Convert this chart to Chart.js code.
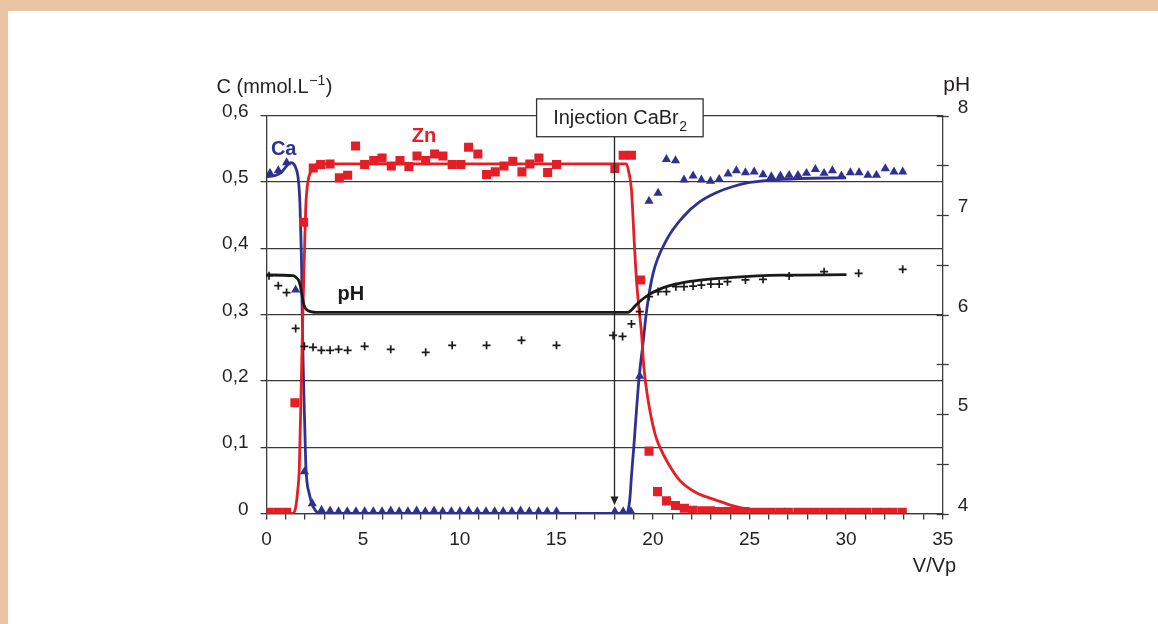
<!DOCTYPE html>
<html><head><meta charset="utf-8">
<script src="https://cdn.jsdelivr.net/npm/chart.js@4.4.0/dist/chart.umd.min.js"></script>
<style>
html,body{margin:0;padding:0;width:1158px;height:624px;overflow:hidden;background:#ebc4a4;}
#panel{position:absolute;left:8px;top:11px;width:1150px;height:613px;background:#fff;}
#c{position:absolute;left:0;top:0;}
</style></head><body>
<div id="panel"></div>
<canvas id="c" width="1158" height="624"></canvas>
<script>
// ---------- DATA ----------
const xTicks = [0,1,2,3,4,5,6,7,8,9,10,11,12,13,14,15,16,17,18,19,20,21,22,23,24,25,26,27,28,29,30,31,32,33,34,35];
const xTickLabels = ['0','','','','','5','','','','','10','','','','','15','','','','','20','','','','','25','','','','','30','','','','','35'];
const cTicks = [0,0.1,0.2,0.3,0.4,0.5,0.6];
const cTickLabels = ['0','0,1','0,2','0,3','0,4','0,5','0,6'];
const phTicks = [4,4.5,5,5.5,6,6.5,7,7.5,8];
const phTickLabels = ['4','','5','','6','','7','','8'];

// Zn measured (V/Vp, C)
const znPoints = [[0.13,0.002],[0.58,0.002],[1.04,0.002],[1.47,0.167],[1.92,0.439],[2.42,0.521],[2.80,0.526],[3.29,0.527],[3.77,0.506],[4.20,0.510],[4.61,0.554],[5.08,0.526],[5.55,0.532],[5.98,0.536],[6.46,0.524],[6.91,0.532],[7.37,0.523],[7.79,0.539],[8.24,0.532],[8.70,0.542],[9.13,0.539],[9.61,0.526],[10.06,0.526],[10.46,0.552],[10.94,0.542],[11.39,0.511],[11.84,0.515],[12.29,0.524],[12.75,0.531],[13.22,0.515],[13.63,0.527],[14.10,0.536],[14.55,0.514],[15.01,0.526],[18.03,0.520],[18.46,0.540],[18.89,0.540],[19.36,0.352],[19.80,0.094],[20.24,0.033],[20.70,0.019],[21.17,0.012],[21.63,0.008],[22.06,0.005],[22.53,0.004],[22.98,0.004],[23.43,0.003],[23.87,0.003],[24.32,0.003],[24.77,0.003],[25.22,0.002],[25.67,0.002],[26.13,0.002],[26.60,0.002],[27.01,0.002],[27.50,0.002],[27.95,0.002],[28.39,0.002],[28.84,0.002],[29.29,0.002],[29.74,0.002],[30.19,0.002],[30.64,0.002],[31.08,0.002],[31.57,0.002],[32.00,0.002],[32.43,0.002],[32.91,0.002]];
// Zn model curve
const znCurve = [[0,0],[1.35,0],[1.5,0.008],[1.6,0.03],[1.7,0.07],[1.78,0.17],[1.88,0.30],[1.97,0.40],[2.03,0.46],[2.11,0.493],[2.34,0.518],[2.77,0.527],[18.63,0.527],[18.75,0.515],[18.89,0.488],[19.03,0.412],[19.15,0.352],[19.27,0.312],[19.41,0.272],[19.53,0.221],[19.75,0.171],[20.1,0.121],[20.36,0.100],[20.8,0.075],[21.39,0.050],[22.2,0.032],[23.29,0.020],[24.2,0.011],[25.17,0.005],[26.5,0.001],[28,0],[30,0]];

// Ca measured
const caPoints = [[0.18,0.513],[0.61,0.517],[1.04,0.529],[1.51,0.337],[1.96,0.063],[2.37,0.015],[2.85,0.005],[3.29,0.004],[3.73,0.003],[4.18,0.003],[4.63,0.003],[5.08,0.003],[5.53,0.003],[5.98,0.003],[6.43,0.004],[6.87,0.003],[7.32,0.003],[7.77,0.004],[8.22,0.003],[8.67,0.004],[9.12,0.003],[9.57,0.003],[10.01,0.003],[10.46,0.004],[10.91,0.003],[11.36,0.003],[11.81,0.003],[12.25,0.003],[12.70,0.003],[13.15,0.004],[13.60,0.003],[14.08,0.003],[14.53,0.003],[15.01,0.003],[18.03,0.003],[18.46,0.003],[18.86,0.003],[19.32,0.207],[19.80,0.471],[20.27,0.483],[20.70,0.534],[21.17,0.532],[21.61,0.503],[22.08,0.509],[22.51,0.503],[22.98,0.501],[23.43,0.504],[23.89,0.512],[24.32,0.517],[24.79,0.514],[25.24,0.515],[25.70,0.511],[26.13,0.508],[26.60,0.509],[27.05,0.510],[27.51,0.510],[27.95,0.513],[28.41,0.519],[28.86,0.513],[29.29,0.517],[29.76,0.509],[30.22,0.514],[30.67,0.514],[31.13,0.510],[31.57,0.510],[32.03,0.520],[32.48,0.515],[32.93,0.515]];
// Ca model curve
const caCurve = [[0,0.508],[0.5,0.510],[0.79,0.515],[1.04,0.524],[1.25,0.529],[1.47,0.524],[1.65,0.503],[1.73,0.468],[1.78,0.417],[1.82,0.367],[1.85,0.297],[1.90,0.221],[1.99,0.121],[2.04,0.070],[2.21,0.030],[2.42,0.010],[2.8,0],[18.63,0],[18.8,0.02],[18.9,0.06],[19.01,0.10],[19.27,0.20],[19.5,0.26],[19.67,0.305],[20.01,0.362],[20.7,0.412],[21.56,0.447],[22.43,0.470],[23.3,0.484],[24.15,0.493],[25.0,0.499],[25.88,0.502],[27.6,0.505],[30.0,0.506]];

// pH measured (right axis)
const phPoints = [[0.13,6.39],[0.61,6.29],[1.04,6.22],[1.51,5.86],[1.96,5.68],[2.41,5.67],[2.84,5.64],[3.29,5.64],[3.73,5.65],[4.20,5.64],[5.08,5.68],[6.43,5.65],[8.24,5.62],[9.61,5.69],[11.39,5.69],[13.20,5.74],[15.01,5.69],[17.94,5.79],[18.43,5.78],[18.89,5.905],[19.32,6.028],[19.80,6.18],[20.27,6.23],[20.70,6.23],[21.19,6.28],[21.61,6.28],[22.08,6.286],[22.51,6.296],[23.00,6.306],[23.43,6.306],[23.86,6.33],[24.79,6.347],[25.70,6.354],[27.05,6.387],[28.86,6.43],[30.65,6.414],[32.93,6.454]];
// pH model curve
const phCurve = [[0,6.397],[1.39,6.39],[1.55,6.37],[1.65,6.347],[1.75,6.29],[1.82,6.213],[1.94,6.095],[2.16,6.038],[2.6,6.022],[18.72,6.022],[18.89,6.045],[19.1,6.09],[19.41,6.146],[19.84,6.205],[20.3,6.25],[20.7,6.28],[21.5,6.318],[22.43,6.345],[24.15,6.374],[26.74,6.395],[30.02,6.40]];

// annotation anchors (data units)
const injectionX = 18;
const injectionBoxX = [13.98, 22.6];
const injectionBoxC = [0.568, 0.625];
const arrowTipC = 0.013;
const seriesLabels = [
  {text:'Ca', x:0.89, c:0.540, color:'#2e3192'},
  {text:'Zn', x:8.15, c:0.560, color:'#e41e26'},
  {text:'pH', x:4.37, c:0.322, color:'#1a1a1a'}
];

// ---------- CHART ----------
const FONT = "'Liberation Sans', Arial, Helvetica, sans-serif";
const RED = '#e41e26', BLUE = '#2e3192', BLACK = '#1a1a1a', GRID = '#3a3a3a', TXT = '#231f20';
const toXY = a => a.map(p => ({x:p[0], y:p[1]}));

const annot = {
  id:'annot',
  afterDraw(chart){
    const ctx = chart.ctx, xs = chart.scales.x, ys = chart.scales.y, y2 = chart.scales.y2;
    const ca = chart.chartArea;
    ctx.save();
    // right axis crossing ticks
    ctx.strokeStyle = GRID; ctx.lineWidth = 1.3;
    phTicks.forEach(v => {
      const py = Math.round(y2.getPixelForValue(v)) + 0.5;
      ctx.beginPath(); ctx.moveTo(ca.right - 6, py); ctx.lineTo(ca.right + 6, py); ctx.stroke();
    });
    // injection box
    const bx0 = xs.getPixelForValue(injectionBoxX[0]), bx1 = xs.getPixelForValue(injectionBoxX[1]);
    const by0 = ys.getPixelForValue(injectionBoxC[1]), by1 = ys.getPixelForValue(injectionBoxC[0]);
    ctx.fillStyle = '#fff'; ctx.fillRect(bx0, by0, bx1 - bx0, by1 - by0);
    ctx.strokeStyle = '#333'; ctx.lineWidth = 1.3; ctx.strokeRect(bx0, by0, bx1 - bx0, by1 - by0);
    ctx.fillStyle = TXT; ctx.textBaseline = 'alphabetic'; ctx.textAlign = 'left';
    ctx.font = '20px ' + FONT;
    const main = 'Injection CaBr';
    const wm = ctx.measureText(main).width;
    ctx.font = '14px ' + FONT;
    const ws = ctx.measureText('2').width;
    const tx = (bx0 + bx1) / 2 - (wm + ws) / 2;
    const tb = (by0 + by1) / 2 + 6;
    ctx.font = '20px ' + FONT; ctx.fillText(main, tx, tb);
    ctx.font = '14px ' + FONT; ctx.fillText('2', tx + wm + 0.5, tb + 7.5);
    // arrow
    const ax = Math.round(xs.getPixelForValue(injectionX)) + 0.5;
    const tipY = ys.getPixelForValue(arrowTipC);
    ctx.strokeStyle = '#222'; ctx.lineWidth = 1.3;
    ctx.beginPath(); ctx.moveTo(ax, by1); ctx.lineTo(ax, tipY - 7); ctx.stroke();
    ctx.fillStyle = '#222';
    ctx.beginPath(); ctx.moveTo(ax - 4, tipY - 8.5); ctx.lineTo(ax + 4, tipY - 8.5); ctx.lineTo(ax, tipY); ctx.closePath(); ctx.fill();
    // series labels
    ctx.textAlign = 'center'; ctx.font = 'bold 20px ' + FONT;
    seriesLabels.forEach(l => { ctx.fillStyle = l.color; ctx.fillText(l.text, xs.getPixelForValue(l.x), ys.getPixelForValue(l.c)); });
    // axis titles
    ctx.fillStyle = TXT; ctx.textAlign = 'left';
    let lx = ca.left - 50, lb = ca.top - 23;
    ctx.font = '20px ' + FONT; ctx.fillText('C (mmol.L', lx, lb); lx += ctx.measureText('C (mmol.L').width;
    ctx.font = '14px ' + FONT; ctx.fillText('\u22121', lx + 0.5, lb - 8); lx += ctx.measureText('\u22121').width + 1;
    ctx.font = '20px ' + FONT; ctx.fillText(')', lx, lb);
    ctx.font = '21px ' + FONT; ctx.fillText('pH', ca.right + 0.5, ca.top - 24.5);
    ctx.textAlign = 'right'; ctx.font = '20px ' + FONT; ctx.fillText('V/Vp', ca.right + 13.5, ca.bottom + 58);
    ctx.restore();
  }
};

const lineDs = (data, color, axis) => ({type:'scatter', data: toXY(data), yAxisID: axis, showLine:true, borderColor: color, borderWidth: 2.8, pointRadius: 0, fill:false, cubicInterpolationMode:'monotone', order: 2});
const ptDs = (data, color, style, r, axis) => ({type:'scatter', data: toXY(data), yAxisID: axis, showLine:false, pointStyle: style, pointRadius: r, backgroundColor: color, borderColor: color, borderWidth: style === 'cross' ? 1.7 : 0, order: 1});

new Chart(document.getElementById('c'), {
  type: 'scatter',
  data: { datasets: [
    lineDs(phCurve, BLACK, 'y2'),
    lineDs(znCurve, RED, 'y'),
    lineDs(caCurve, BLUE, 'y'),
    ptDs(phPoints, BLACK, 'cross', 4, 'y2'),
    ptDs(caPoints, BLUE, 'triangle', 5.3, 'y'),
    ptDs(znPoints, RED, 'rect', 6.4, 'y')
  ]},
  options: {
    responsive: false, animation: false, devicePixelRatio: 1, events: [],
    layout: { padding: { left: 100, right: 100, top: 115.5, bottom: 10 } },
    plugins: { legend: {display:false}, tooltip: {enabled:false}, title: {display:false} },
    scales: {
      x: {
        type:'linear', min:0, max:35,
        afterBuildTicks: s => { s.ticks = xTicks.map(v => ({value:v})); },
        afterFit: s => { s.height = 100.5; },
        ticks: { autoSkip:false, maxRotation:0, padding: 9, color: TXT, font:{family:FONT, size:19}, callback: (v, i) => xTickLabels[i] },
        grid: { drawOnChartArea:false, drawTicks:true, tickLength:6, color: GRID, lineWidth:1.3 },
        border: { display:true, color: GRID, width:1.3 }
      },
      y: {
        type:'linear', position:'left', min:0, max:0.6,
        afterBuildTicks: s => { s.ticks = cTicks.map(v => ({value:v})); },
        afterFit: s => { s.width = 166.5; },
        ticks: { padding: 12, labelOffset: -4, color: TXT, font:{family:FONT, size:19}, callback: (v, i) => cTickLabels[i] },
        grid: { drawOnChartArea:true, drawTicks:true, tickLength:6, color: GRID, lineWidth:1.3 },
        border: { display:true, color: GRID, width:1.3 }
      },
      y2: {
        type:'linear', position:'right', min:4, max:8,
        afterBuildTicks: s => { s.ticks = phTicks.map(v => ({value:v})); },
        afterFit: s => { s.width = 115.3; },
        ticks: { padding: 15, labelOffset: -8, color: TXT, font:{family:FONT, size:19}, callback: (v, i) => phTickLabels[i] },
        grid: { drawOnChartArea:false, drawTicks:false, color: GRID, lineWidth:1.3 },
        border: { display:true, color: GRID, width:1.3 }
      }
    }
  },
  plugins: [annot]
});
</script>
</body></html>
